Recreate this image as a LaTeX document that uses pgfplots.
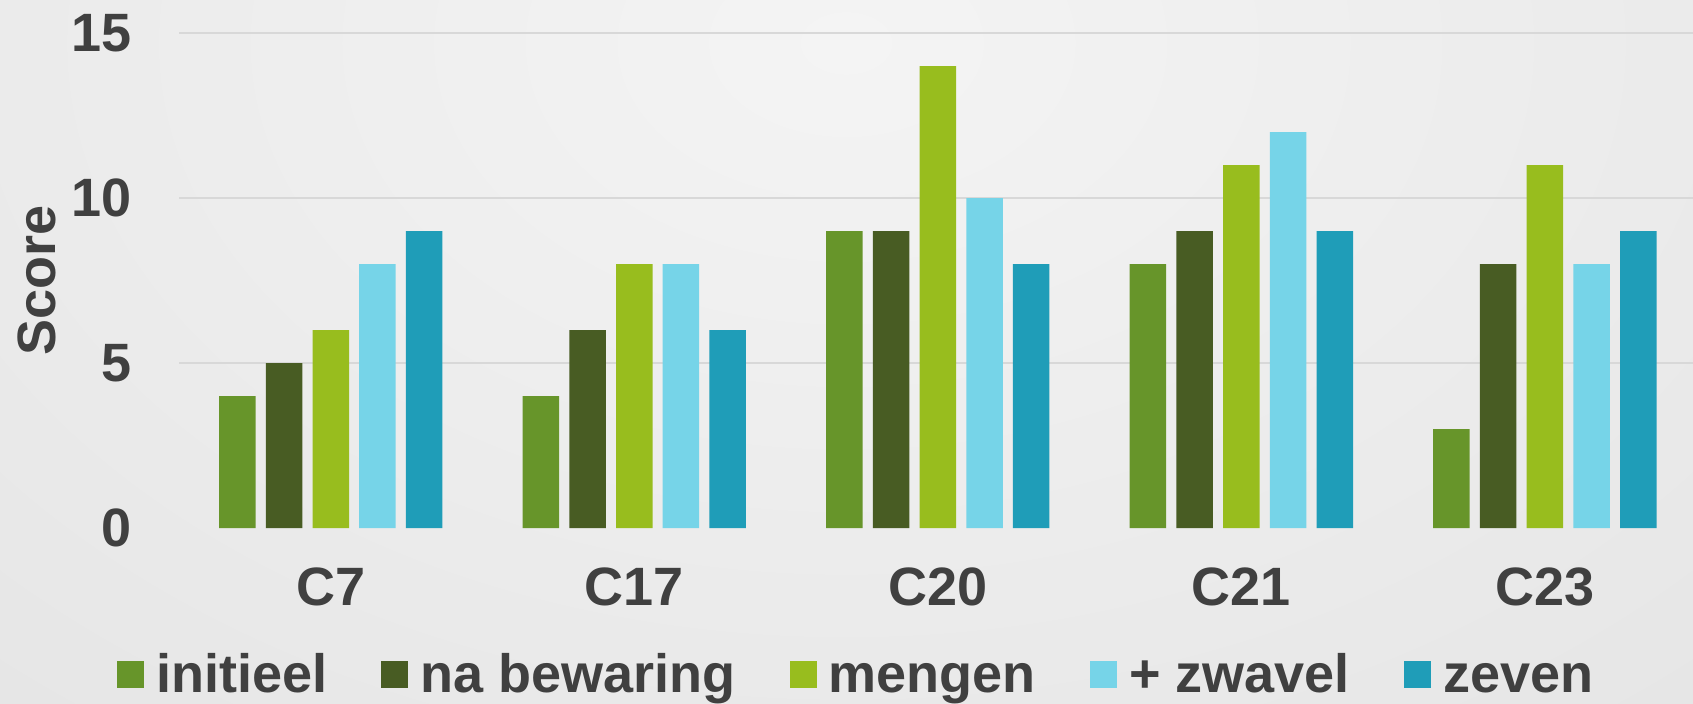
\documentclass[border=0pt]{standalone}
\usepackage{pgfplots}
\pgfplotsset{compat=1.18}
\usepackage{fontspec}
\setmainfont{Liberation Sans}
\definecolor{cA}{HTML}{67952A}
\definecolor{cB}{HTML}{485C23}
\definecolor{cC}{HTML}{98BD1E}
\definecolor{cD}{HTML}{76D4E8}
\definecolor{cE}{HTML}{1F9DB8}
\definecolor{txt}{HTML}{404040}
\definecolor{gridc}{HTML}{D8D8D8}
\definecolor{bgin}{HTML}{F4F4F4}
\definecolor{bgout}{HTML}{DCDCDC}
\begin{document}
\begin{tikzpicture}
\useasboundingbox (0,0) rectangle (846.5pt,351.5pt);
\begin{scope}
\clip (0,0) rectangle (846.5pt,351.5pt);
\shade[inner color=bgin, outer color=bgout] (423pt,330pt) ellipse [x radius=1100pt, y radius=750pt];
\end{scope}
\begin{axis}[
  at={(89.5pt,87.5pt)}, anchor=south west, scale only axis,
  width=757pt, height=247.5pt,
  xmin=-0.5, xmax=4.488, ymin=0, ymax=15,
  ybar=5.1pt, bar width=18.25pt,
  xtick={0,1,2,3,4}, xticklabels={C7,C17,C20,C21,C23},
  ytick={5,10,15}, extra y ticks={0}, extra y tick style={grid=none},
  ymajorgrids, major grid style={draw=gridc, line width=0.9pt},
  axis line style={draw=none}, tick style={draw=none},
  /pgf/number format/assume math mode=true,
  ticklabel style={font=\fontsize{27}{31}\selectfont\bfseries, text=txt, inner sep=0pt},
  xticklabel style={anchor=base, yshift=-34.6pt},
  yticklabel style={anchor=east, xshift=-23.5pt},
  ylabel={Score},
  every axis y label/.style={at={(axis description cs:-0.0819,0.5)}, rotate=90, anchor=base,
    font=\fontsize{27}{31}\selectfont\bfseries, text=txt, inner sep=0pt},
  legend columns=5,
  legend style={at={(axis description cs:0.4465,-0.3384)}, anchor=south, draw=none, fill=none,
    font=\fontsize{27}{31}\selectfont\bfseries, text=txt, inner sep=0pt,
    nodes={inner sep=0pt}, cells={anchor=base west},
    /tikz/every odd column/.append style={column sep=6pt},
    /tikz/every even column/.append style={column sep=27pt}},
  legend image code/.code={\fill[#1] (0pt,2pt) rectangle (13.65pt,15.35pt);},
]
\addplot[fill=cA, draw=none] coordinates {(0,4) (1,4) (2,9) (3,8) (4,3)};
\addplot[fill=cB, draw=none] coordinates {(0,5) (1,6) (2,9) (3,9) (4,8)};
\addplot[fill=cC, draw=none] coordinates {(0,6) (1,8) (2,14) (3,11) (4,11)};
\addplot[fill=cD, draw=none] coordinates {(0,8) (1,8) (2,10) (3,12) (4,8)};
\addplot[fill=cE, draw=none] coordinates {(0,9) (1,6) (2,8) (3,9) (4,9)};
\legend{initieel, na bewaring, mengen, + zwavel, zeven}
\end{axis}
\end{tikzpicture}
\end{document}
